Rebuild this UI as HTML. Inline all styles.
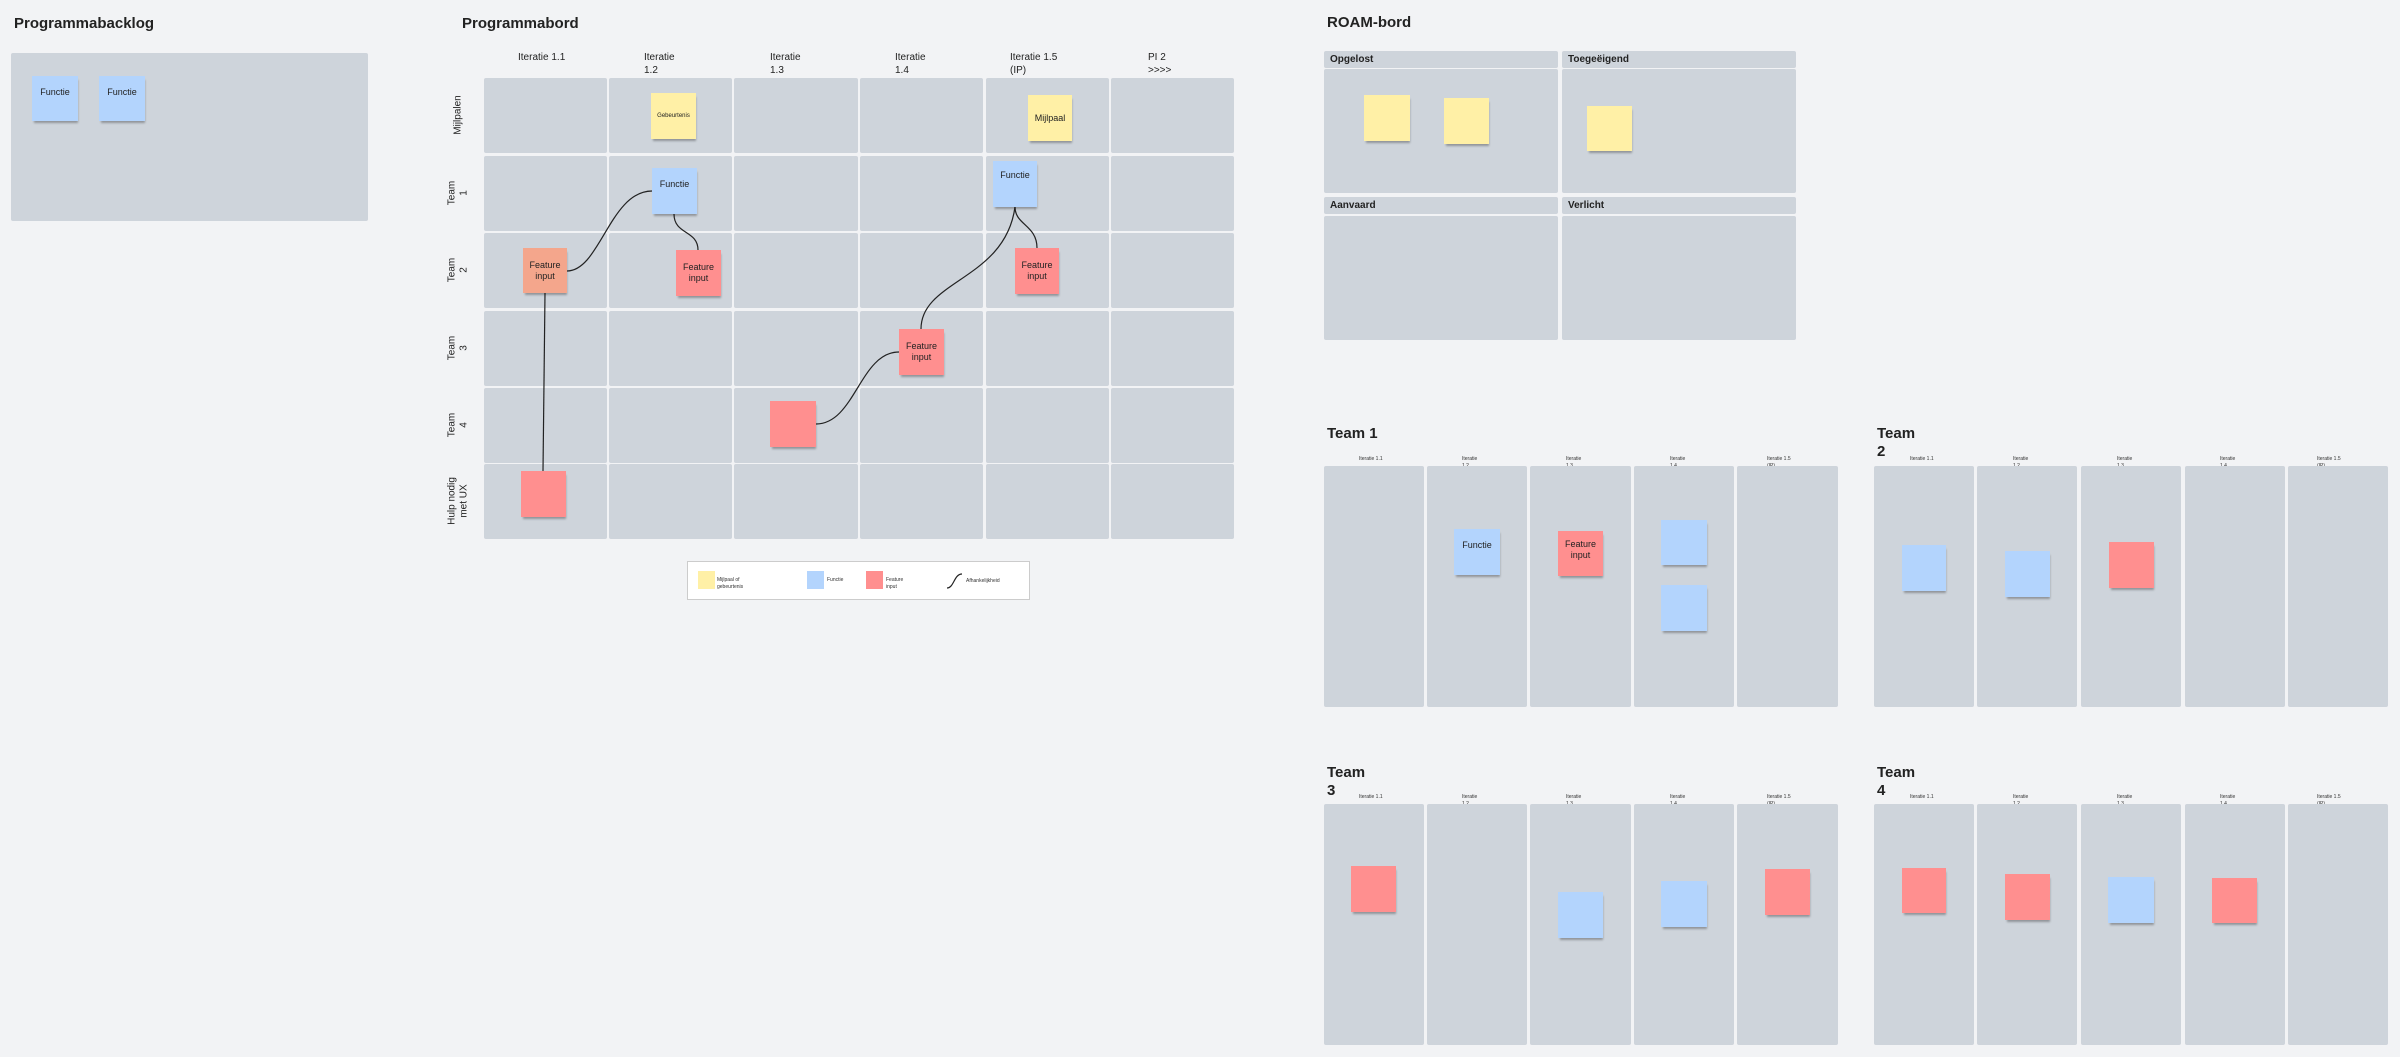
<!DOCTYPE html>
<html><head><meta charset="utf-8">
<style>
*{margin:0;padding:0;box-sizing:border-box}
body{width:2400px;height:1057px;background:#f2f3f5;position:relative;overflow:hidden;font-family:"Liberation Sans",sans-serif;color:#222}
div{position:absolute}
.t{font-weight:bold;font-size:15px}
.p{background:#ced4db;border-radius:2px}
.s{box-shadow:1px 3px 2px -1px rgba(0,0,0,.3);font-size:9px;text-align:center;line-height:11px;display:flex;align-items:center;justify-content:center}
.y{background:#fff0a6}.b{background:#b3d4fd}.r{background:#ff8f8f}.o{background:#f4a68c}
.h{font-size:10px;line-height:13px}
.rl{width:75px;height:30px;font-size:10px;line-height:12px;text-align:center;transform:rotate(-90deg);display:flex;align-items:center;justify-content:center}
.sh{font-size:5px;line-height:7px;color:#333}
.rh{font-weight:bold;font-size:10px;left:6px;top:4px}
</style></head><body>

<div class="t" style="left:14px;top:15px">Programmabacklog</div>
<div class="p" style="left:11px;top:53px;width:357px;height:168px"></div>
<div class="s b" style="left:32px;top:76px;width:46px;height:45px;align-items:flex-start;padding-top:11px">Functie</div>
<div class="s b" style="left:99px;top:76px;width:46px;height:45px;align-items:flex-start;padding-top:11px">Functie</div>

<div class="t" style="left:462px;top:15px">Programmabord</div>
<div class="h" style="left:518px;top:51px">Iteratie 1.1</div>
<div class="h" style="left:644px;top:51px">Iteratie<br>1.2</div>
<div class="h" style="left:770px;top:51px">Iteratie<br>1.3</div>
<div class="h" style="left:895px;top:51px">Iteratie<br>1.4</div>
<div class="h" style="left:1010px;top:51px">Iteratie 1.5<br>(IP)</div>
<div class="h" style="left:1148px;top:51px">PI 2<br>&gt;&gt;&gt;&gt;</div>

<div class="rl" style="left:421px;top:100px">Mijlpalen</div>
<div class="rl" style="left:421px;top:178px">Team<br>1</div>
<div class="rl" style="left:421px;top:255px">Team<br>2</div>
<div class="rl" style="left:421px;top:333px">Team<br>3</div>
<div class="rl" style="left:421px;top:410px">Team<br>4</div>
<div class="rl" style="left:421px;top:486px">Hulp nodig<br>met UX</div>

<div class="p" style="left:484px;top:78px;width:123px;height:75px"></div><div class="p" style="left:609px;top:78px;width:123px;height:75px"></div><div class="p" style="left:734px;top:78px;width:124px;height:75px"></div><div class="p" style="left:860px;top:78px;width:123px;height:75px"></div><div class="p" style="left:986px;top:78px;width:123px;height:75px"></div><div class="p" style="left:1111px;top:78px;width:123px;height:75px"></div>
<div class="p" style="left:484px;top:156px;width:123px;height:75px"></div><div class="p" style="left:609px;top:156px;width:123px;height:75px"></div><div class="p" style="left:734px;top:156px;width:124px;height:75px"></div><div class="p" style="left:860px;top:156px;width:123px;height:75px"></div><div class="p" style="left:986px;top:156px;width:123px;height:75px"></div><div class="p" style="left:1111px;top:156px;width:123px;height:75px"></div>
<div class="p" style="left:484px;top:233px;width:123px;height:75px"></div><div class="p" style="left:609px;top:233px;width:123px;height:75px"></div><div class="p" style="left:734px;top:233px;width:124px;height:75px"></div><div class="p" style="left:860px;top:233px;width:123px;height:75px"></div><div class="p" style="left:986px;top:233px;width:123px;height:75px"></div><div class="p" style="left:1111px;top:233px;width:123px;height:75px"></div>
<div class="p" style="left:484px;top:311px;width:123px;height:75px"></div><div class="p" style="left:609px;top:311px;width:123px;height:75px"></div><div class="p" style="left:734px;top:311px;width:124px;height:75px"></div><div class="p" style="left:860px;top:311px;width:123px;height:75px"></div><div class="p" style="left:986px;top:311px;width:123px;height:75px"></div><div class="p" style="left:1111px;top:311px;width:123px;height:75px"></div>
<div class="p" style="left:484px;top:388px;width:123px;height:75px"></div><div class="p" style="left:609px;top:388px;width:123px;height:75px"></div><div class="p" style="left:734px;top:388px;width:124px;height:75px"></div><div class="p" style="left:860px;top:388px;width:123px;height:75px"></div><div class="p" style="left:986px;top:388px;width:123px;height:75px"></div><div class="p" style="left:1111px;top:388px;width:123px;height:75px"></div>
<div class="p" style="left:484px;top:464px;width:123px;height:75px"></div><div class="p" style="left:609px;top:464px;width:123px;height:75px"></div><div class="p" style="left:734px;top:464px;width:124px;height:75px"></div><div class="p" style="left:860px;top:464px;width:123px;height:75px"></div><div class="p" style="left:986px;top:464px;width:123px;height:75px"></div><div class="p" style="left:1111px;top:464px;width:123px;height:75px"></div>

<svg style="position:absolute;left:0;top:0" width="2400" height="1057">
<g fill="none" stroke="#222" stroke-width="1.2">
<path d="M567 271 C600 271 610 191 652 191"/>
<path d="M674 214 C674 235 698 230 698 250"/>
<path d="M1015 207 C1015 225 1037 225 1037 248"/>
<path d="M1015 207 C1005 280 921 280 921 329"/>
<path d="M899 352 C860 352 855 424 816 424"/>
<path d="M545 293 L543 471"/>
</g></svg>

<div class="s y" style="left:651px;top:93px;width:45px;height:46px;font-size:6px">Gebeurtenis</div>
<div class="s y" style="left:1028px;top:95px;width:44px;height:46px">Mijlpaal</div>
<div class="s b" style="left:652px;top:168px;width:45px;height:46px;align-items:flex-start;padding-top:11px">Functie</div>
<div class="s b" style="left:993px;top:161px;width:44px;height:46px;align-items:flex-start;padding-top:9px">Functie</div>
<div class="s o" style="left:523px;top:248px;width:44px;height:45px">Feature<br>input</div>
<div class="s r" style="left:676px;top:250px;width:45px;height:46px">Feature<br>input</div>
<div class="s r" style="left:1015px;top:248px;width:44px;height:46px">Feature<br>input</div>
<div class="s r" style="left:899px;top:329px;width:45px;height:46px">Feature<br>input</div>
<div class="s r" style="left:770px;top:401px;width:46px;height:46px"></div>
<div class="s r" style="left:521px;top:471px;width:45px;height:46px"></div>

<div style="left:687px;top:561px;width:343px;height:39px;background:#fff;border:1px solid #ccc"></div>
<div class="y" style="left:698px;top:571px;width:17px;height:18px"></div>
<div class="sh" style="left:717px;top:577px">Mijlpaal of<br>gebeurtenis</div>
<div class="b" style="left:807px;top:571px;width:17px;height:18px"></div>
<div class="sh" style="left:827px;top:577px">Functie</div>
<div class="r" style="left:866px;top:571px;width:17px;height:18px"></div>
<div class="sh" style="left:886px;top:577px">Feature<br>input</div>
<svg style="position:absolute;left:946px;top:573px" width="17" height="16"><path d="M1 15 C8 15 8 1 16 1" fill="none" stroke="#222" stroke-width="1.2"/></svg>
<div class="sh" style="left:966px;top:578px">Afhankelijkheid</div>

<div class="t" style="left:1327px;top:14px">ROAM-bord</div>
<div class="p" style="left:1324px;top:51px;width:234px;height:17px"></div><div class="rh" style="left:1330px;top:54px">Opgelost</div>
<div class="p" style="left:1324px;top:69px;width:234px;height:124px"></div>
<div class="p" style="left:1562px;top:51px;width:234px;height:17px"></div><div class="rh" style="left:1568px;top:54px">Toegeëigend</div>
<div class="p" style="left:1562px;top:69px;width:234px;height:124px"></div>
<div class="p" style="left:1324px;top:197px;width:234px;height:17px"></div><div class="rh" style="left:1330px;top:200px">Aanvaard</div>
<div class="p" style="left:1324px;top:216px;width:234px;height:124px"></div>
<div class="p" style="left:1562px;top:197px;width:234px;height:17px"></div><div class="rh" style="left:1568px;top:200px">Verlicht</div>
<div class="p" style="left:1562px;top:216px;width:234px;height:124px"></div>
<div class="s y" style="left:1364px;top:95px;width:46px;height:46px"></div>
<div class="s y" style="left:1444px;top:98px;width:45px;height:46px"></div>
<div class="s y" style="left:1587px;top:106px;width:45px;height:45px"></div>

<div class="t" style="left:1327px;top:425px">Team 1</div>
<div class="sh" style="left:1359px;top:456px">Iteratie 1.1</div><div class="sh" style="left:1462px;top:456px">Iteratie<br>1.2</div><div class="sh" style="left:1566px;top:456px">Iteratie<br>1.3</div><div class="sh" style="left:1670px;top:456px">Iteratie<br>1.4</div><div class="sh" style="left:1767px;top:456px">Iteratie 1.5<br>(IP)</div>
<div class="p" style="left:1324px;top:466px;width:100px;height:241px"></div><div class="p" style="left:1427px;top:466px;width:100px;height:241px"></div><div class="p" style="left:1530px;top:466px;width:101px;height:241px"></div><div class="p" style="left:1634px;top:466px;width:100px;height:241px"></div><div class="p" style="left:1737px;top:466px;width:101px;height:241px"></div>
<div class="s b" style="left:1454px;top:529px;width:46px;height:46px;align-items:flex-start;padding-top:11px">Functie</div>
<div class="s r" style="left:1558px;top:531px;width:45px;height:45px;align-items:flex-start;padding-top:8px">Feature<br>input</div>
<div class="s b" style="left:1661px;top:520px;width:46px;height:45px"></div>
<div class="s b" style="left:1661px;top:585px;width:46px;height:46px"></div>

<div class="t" style="left:1877px;top:425px;line-height:18px">Team<br>2</div>
<div class="sh" style="left:1910px;top:456px">Iteratie 1.1</div><div class="sh" style="left:2013px;top:456px">Iteratie<br>1.2</div><div class="sh" style="left:2117px;top:456px">Iteratie<br>1.3</div><div class="sh" style="left:2220px;top:456px">Iteratie<br>1.4</div><div class="sh" style="left:2317px;top:456px">Iteratie 1.5<br>(IP)</div>
<div class="p" style="left:1874px;top:466px;width:100px;height:241px"></div><div class="p" style="left:1977px;top:466px;width:100px;height:241px"></div><div class="p" style="left:2081px;top:466px;width:100px;height:241px"></div><div class="p" style="left:2185px;top:466px;width:100px;height:241px"></div><div class="p" style="left:2288px;top:466px;width:100px;height:241px"></div>
<div class="s b" style="left:1902px;top:545px;width:44px;height:46px"></div>
<div class="s b" style="left:2005px;top:551px;width:45px;height:46px"></div>
<div class="s r" style="left:2109px;top:542px;width:45px;height:46px"></div>

<div class="t" style="left:1327px;top:764px;line-height:18px">Team<br>3</div>
<div class="sh" style="left:1359px;top:794px">Iteratie 1.1</div><div class="sh" style="left:1462px;top:794px">Iteratie<br>1.2</div><div class="sh" style="left:1566px;top:794px">Iteratie<br>1.3</div><div class="sh" style="left:1670px;top:794px">Iteratie<br>1.4</div><div class="sh" style="left:1767px;top:794px">Iteratie 1.5<br>(IP)</div>
<div class="p" style="left:1324px;top:804px;width:100px;height:241px"></div><div class="p" style="left:1427px;top:804px;width:100px;height:241px"></div><div class="p" style="left:1530px;top:804px;width:101px;height:241px"></div><div class="p" style="left:1634px;top:804px;width:100px;height:241px"></div><div class="p" style="left:1737px;top:804px;width:101px;height:241px"></div>
<div class="s r" style="left:1351px;top:866px;width:45px;height:46px"></div>
<div class="s b" style="left:1558px;top:892px;width:45px;height:46px"></div>
<div class="s b" style="left:1661px;top:881px;width:46px;height:46px"></div>
<div class="s r" style="left:1765px;top:869px;width:45px;height:46px"></div>

<div class="t" style="left:1877px;top:764px;line-height:18px">Team<br>4</div>
<div class="sh" style="left:1910px;top:794px">Iteratie 1.1</div><div class="sh" style="left:2013px;top:794px">Iteratie<br>1.2</div><div class="sh" style="left:2117px;top:794px">Iteratie<br>1.3</div><div class="sh" style="left:2220px;top:794px">Iteratie<br>1.4</div><div class="sh" style="left:2317px;top:794px">Iteratie 1.5<br>(IP)</div>
<div class="p" style="left:1874px;top:804px;width:100px;height:241px"></div><div class="p" style="left:1977px;top:804px;width:100px;height:241px"></div><div class="p" style="left:2081px;top:804px;width:100px;height:241px"></div><div class="p" style="left:2185px;top:804px;width:100px;height:241px"></div><div class="p" style="left:2288px;top:804px;width:100px;height:241px"></div>
<div class="s r" style="left:1902px;top:868px;width:44px;height:45px"></div>
<div class="s r" style="left:2005px;top:874px;width:45px;height:46px"></div>
<div class="s b" style="left:2108px;top:877px;width:46px;height:46px"></div>
<div class="s r" style="left:2212px;top:878px;width:45px;height:45px"></div>

</body></html>
